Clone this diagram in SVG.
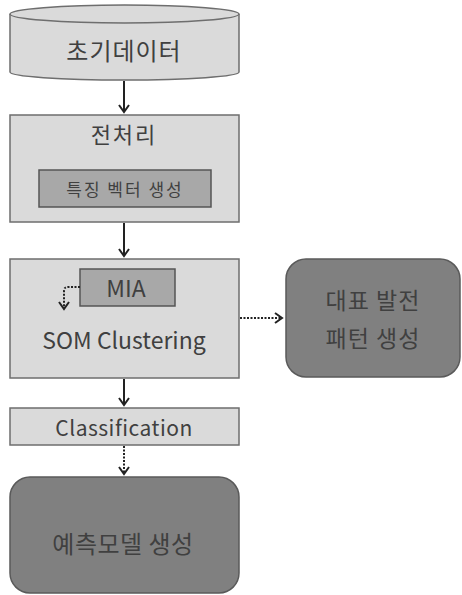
<svg xmlns="http://www.w3.org/2000/svg" width="462" height="595" viewBox="0 0 462 595">
<style>
.light{fill:#dadada;stroke:#6e6e6e;stroke-width:1.5}
.mid{fill:#a8a8a8;stroke:#555;stroke-width:1.5}
.dark{fill:#808080;stroke:#5a5a5a;stroke-width:1.5}
text{font-family:"Noto Sans CJK KR","Open Sans",sans-serif;fill:#404040;text-anchor:middle;dominant-baseline:central}
.solid{stroke:#222;stroke-width:2;fill:none}
.dot{stroke:#222;stroke-width:2;fill:none;stroke-dasharray:2 1.5}
</style>
<defs>
<marker id="ah" markerWidth="12" markerHeight="12" refX="9" refY="6" orient="auto" markerUnits="userSpaceOnUse">
<path d="M2,1 L9,6 L2,11" fill="none" stroke="#222" stroke-width="2"/>
</marker>
</defs>
<rect width="462" height="595" fill="#fff"/>
<g id="n1">
<path class="light" d="M10,14 L10,72 A114.5,8 0 0 0 239,72 L239,14"/>
<ellipse class="light" cx="124.5" cy="14" rx="114.5" ry="9"/>
<text x="124" y="49" font-size="24" letter-spacing="1">초기데이터</text>
</g>
<g id="n2">
<rect class="light" x="10" y="115" width="229" height="107"/>
<text x="124" y="133" font-size="22" letter-spacing="2">전처리</text>
<rect class="mid" x="39" y="170" width="172" height="37"/>
<text x="125" y="188" font-size="17" letter-spacing="2">특징 벡터 생성</text>
</g>
<g id="n3">
<rect class="light" x="10" y="259" width="229" height="119"/>
<rect class="mid" x="80" y="269" width="95" height="37"/>
<text x="126" y="287" font-size="23">MIA</text>
<text x="124" y="339" font-size="23">SOM Clustering</text>
</g>
<g id="n4">
<rect class="dark" x="286" y="259" width="174" height="118" rx="20"/>
<text x="373" y="299" font-size="23" letter-spacing="1">대표 발전</text>
<text x="373" y="337" font-size="23" letter-spacing="1">패턴 생성</text>
</g>
<g id="n5">
<rect class="light" x="10" y="408" width="229" height="37"/>
<text x="124" y="427" font-size="21" letter-spacing="0.5">Classification</text>
</g>
<g id="n6">
<rect class="dark" x="10" y="477" width="229" height="116" rx="20"/>
<text x="123" y="542" font-size="24" letter-spacing="0.5">예측모델 생성</text>
</g>
<g id="connectors">
<path class="solid" d="M124,81 L124,112" marker-end="url(#ah)"/>
<path class="solid" d="M124,223 L124,256" marker-end="url(#ah)"/>
<path class="dot" d="M80,287 L68,287 Q64,287 64,291 L64,309" marker-end="url(#ah)"/>
<path class="dot" d="M240,318 L282,318" marker-end="url(#ah)"/>
<path class="solid" d="M124,379 L124,405" marker-end="url(#ah)"/>
<path class="dot" d="M124,446 L124,474" marker-end="url(#ah)"/>
</g>
</svg>
